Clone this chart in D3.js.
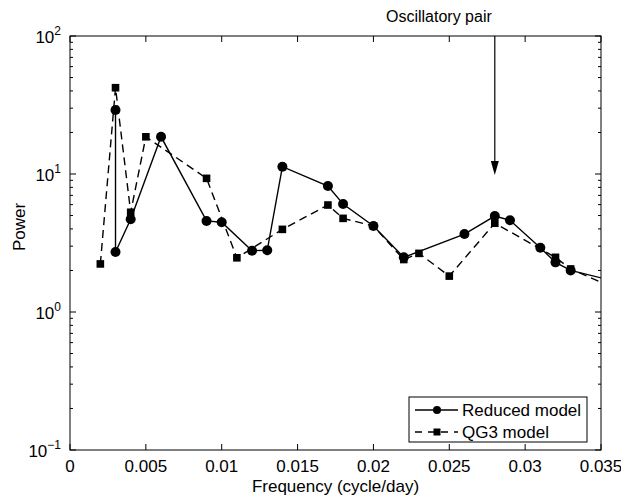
<!DOCTYPE html>
<html>
<head>
<meta charset="utf-8">
<script src="https://cdn.jsdelivr.net/npm/d3@7"></script>
<style>
  body { margin: 0; background: #fff; }
  text { font-family: "Liberation Sans", Arial, sans-serif; fill: #000; }
</style>
</head>
<body>
<div id="chart"></div>
<script>
// Reduced model (circles, solid)
const reducedFreq = [0.003, 0.003, 0.004, 0.006, 0.009, 0.010, 0.012, 0.013, 0.014, 0.017, 0.018, 0.020, 0.022, 0.026, 0.028, 0.029, 0.031, 0.032, 0.033, 0.036];
const reducedPower = [29.1, 2.72, 4.7, 18.6, 4.57, 4.47, 2.78, 2.8, 11.3, 8.18, 6.06, 4.2, 2.49, 3.67, 4.96, 4.62, 2.92, 2.29, 2.0, 1.66];
// QG3 model (squares, dashed)
const qg3Freq = [0.002, 0.003, 0.004, 0.005, 0.009, 0.011, 0.014, 0.017, 0.018, 0.020, 0.022, 0.023, 0.025, 0.028, 0.032, 0.033, 0.036];
const qg3Power = [2.23, 42.2, 5.28, 18.6, 9.3, 2.47, 3.97, 5.96, 4.77, 4.2, 2.4, 2.66, 1.82, 4.4, 2.49, 2.05, 1.47];

const xTicks = [0, 0.005, 0.01, 0.015, 0.02, 0.025, 0.03, 0.035];
const xTickLabels = ["0", "0.005", "0.01", "0.015", "0.02", "0.025", "0.03", "0.035"];
const yDecades = [2, 1, 0, -1];
const seriesNames = ["Reduced model", "QG3 model"];
const arrowFreq = 0.028;
const arrowLabel = "Oscillatory pair";

const width = 621, height = 497;
const margin = { top: 36, right: 20, bottom: 47, left: 70 };

const svg = d3.select('#chart').append('svg')
    .attr('width', width)
    .attr('height', height);

const x = d3.scaleLinear().domain([0, 0.035]).range([margin.left, width - margin.right]);
const y = d3.scaleLog().domain([0.1, 100]).range([height - margin.bottom, margin.top]);

svg.append('defs').append('clipPath').attr('id', 'plotclip')
    .append('rect')
    .attr('x', x(0)).attr('y', y(100))
    .attr('width', x(0.035) - x(0)).attr('height', y(0.1) - y(100));

// minor log ticks
const minor = [];
for (let e = -1; e < 2; e++) {
    for (let k = 2; k <= 9; k++) minor.push(k * Math.pow(10, e));
}

const axisG = svg.append('g').attr('stroke', '#000').attr('stroke-width', 1);
const xL = x(0), xR = x(0.035), yT = y(100), yB = y(0.1);

minor.forEach(v => {
    axisG.append('line').attr('x1', xL).attr('x2', xL + 3).attr('y1', y(v)).attr('y2', y(v));
    axisG.append('line').attr('x1', xR).attr('x2', xR - 3).attr('y1', y(v)).attr('y2', y(v));
});
yDecades.forEach(d => {
    const v = Math.pow(10, d);
    axisG.append('line').attr('x1', xL).attr('x2', xL + 6).attr('y1', y(v)).attr('y2', y(v));
    axisG.append('line').attr('x1', xR).attr('x2', xR - 6).attr('y1', y(v)).attr('y2', y(v));
});
xTicks.forEach(t => {
    axisG.append('line').attr('x1', x(t)).attr('x2', x(t)).attr('y1', yB).attr('y2', yB - 6);
    axisG.append('line').attr('x1', x(t)).attr('x2', x(t)).attr('y1', yT).attr('y2', yT + 6);
});
axisG.append('rect')
    .attr('x', xL).attr('y', yT)
    .attr('width', xR - xL).attr('height', yB - yT)
    .attr('fill', 'none');

// tick labels
svg.append('g').selectAll('text')
    .data(xTicks)
    .join('text')
    .attr('x', d => x(d))
    .attr('y', yB + 22)
    .attr('text-anchor', 'middle')
    .style('font-size', '17px')
    .text((d, i) => xTickLabels[i]);

yDecades.forEach(d => {
    const t = svg.append('text')
        .attr('x', xL - 9)
        .attr('y', y(Math.pow(10, d)) + 7)
        .attr('text-anchor', 'end')
        .style('font-size', '17px');
    t.append('tspan').text('10');
    t.append('tspan').attr('dy', -8).style('font-size', '12px').text(d < 0 ? '\u2212' + Math.abs(d) : d);
});

svg.append('text')
    .attr('x', (xL + xR) / 2)
    .attr('y', height - 5)
    .attr('text-anchor', 'middle')
    .style('font-size', '17px')
    .text('Frequency (cycle/day)');

svg.append('text')
    .attr('transform', `translate(25,227) rotate(-90)`)
    .attr('text-anchor', 'middle')
    .style('font-size', '17px')
    .text('Power');

// data
const reduced = reducedFreq.map((f, i) => [f, reducedPower[i]]);
const qg3 = qg3Freq.map((f, i) => [f, qg3Power[i]]);
const line = d3.line().x(d => x(d[0])).y(d => y(d[1]));

const plot = svg.append('g').attr('clip-path', 'url(#plotclip)');

plot.append('path')
    .attr('d', line(qg3))
    .attr('fill', 'none')
    .attr('stroke', '#000')
    .attr('stroke-width', 1.4)
    .attr('stroke-dasharray', '8,5');

plot.append('path')
    .attr('d', line(reduced))
    .attr('fill', 'none')
    .attr('stroke', '#000')
    .attr('stroke-width', 1.4);

plot.selectAll('rect.sq')
    .data(qg3)
    .join('rect')
    .attr('class', 'sq')
    .attr('x', d => x(d[0]) - 3.8)
    .attr('y', d => y(d[1]) - 3.8)
    .attr('width', 7.6)
    .attr('height', 7.6)
    .attr('fill', '#000');

plot.selectAll('circle')
    .data(reduced)
    .join('circle')
    .attr('cx', d => x(d[0]))
    .attr('cy', d => y(d[1]))
    .attr('r', 5)
    .attr('fill', '#000');

// annotation arrow
const ax = x(arrowFreq);
svg.append('line')
    .attr('x1', ax).attr('x2', ax)
    .attr('y1', yT).attr('y2', 165)
    .attr('stroke', '#000').attr('stroke-width', 1.2);
svg.append('path')
    .attr('d', `M${ax - 4},161 L${ax + 4},161 L${ax},175 Z`)
    .attr('fill', '#000');
svg.append('text')
    .attr('x', ax - 3)
    .attr('y', 22)
    .attr('text-anchor', 'end')
    .style('font-size', '16px')
    .text(arrowLabel);

// legend
const lg = svg.append('g');
lg.append('rect')
    .attr('x', 409).attr('y', 397)
    .attr('width', 178).attr('height', 45)
    .attr('fill', '#fff').attr('stroke', '#000');
[0, 1].forEach(i => {
    const ly = 410 + i * 22;
    lg.append('line')
        .attr('x1', 415).attr('x2', 458)
        .attr('y1', ly).attr('y2', ly)
        .attr('stroke', '#000').attr('stroke-width', 1.4)
        .attr('stroke-dasharray', i === 1 ? '7,6' : null);
    if (i === 0) {
        lg.append('circle').attr('cx', 437).attr('cy', ly).attr('r', 4).attr('fill', '#000');
    } else {
        lg.append('rect').attr('x', 433.5).attr('y', ly - 3.5).attr('width', 7).attr('height', 7).attr('fill', '#000');
    }
    lg.append('text')
        .attr('x', 462).attr('y', ly + 6)
        .style('font-size', '17px')
        .text(seriesNames[i]);
});
</script>
</body>
</html>
